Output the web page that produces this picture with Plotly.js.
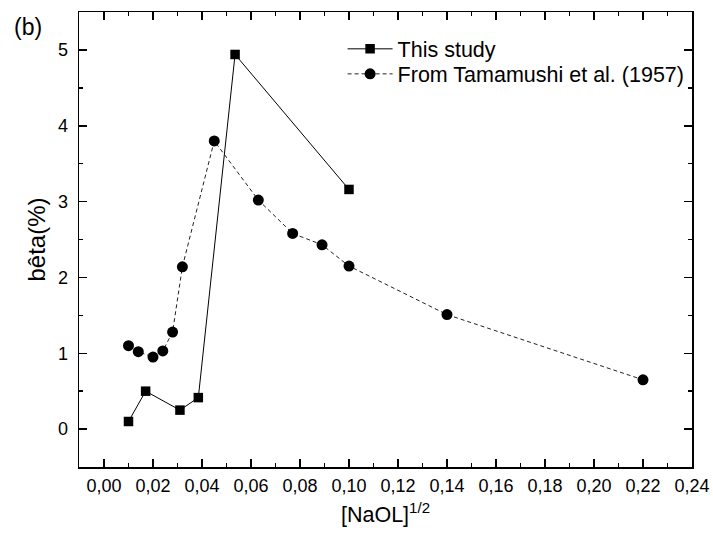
<!DOCTYPE html>
<html>
<head>
<meta charset="utf-8">
<script src="https://cdn.plot.ly/plotly-3.0.1.min.js"></script>
<style>html,body{margin:0;padding:0;background:#fff;}#chart{width:713px;height:543px;}</style>
</head>
<body>
<div id="chart"></div>
<script>
// This study
var studyX = [0.010, 0.017, 0.031, 0.0385, 0.0535, 0.100];
var studyY = [0.10, 0.50, 0.25, 0.415, 4.94, 3.16];
// From Tamamushi et al. (1957)
var tamX = [0.010, 0.014, 0.020, 0.024, 0.028, 0.032, 0.045, 0.063, 0.077, 0.089, 0.100, 0.140, 0.220];
var tamY = [1.10, 1.02, 0.95, 1.03, 1.28, 2.14, 3.80, 3.02, 2.58, 2.43, 2.15, 1.51, 0.65];

var seriesNames = ['This study', 'From Tamamushi et al. (1957)'];
var xTickVals = [0, 0.02, 0.04, 0.06, 0.08, 0.10, 0.12, 0.14, 0.16, 0.18, 0.20, 0.22, 0.24];
var yTickVals = [0, 1, 2, 3, 4, 5];

var font = 'Liberation Sans, Arial, sans-serif';

var traces = [
  {
    x: studyX, y: studyY, name: seriesNames[0], type: 'scatter', mode: 'lines+markers',
    line: {color: '#000', width: 1},
    marker: {symbol: 'square', size: 9.5, color: '#000'},
    legend: 'legend'
  },
  {
    x: tamX, y: tamY, name: seriesNames[1], type: 'scatter', mode: 'lines+markers',
    line: {color: '#222', width: 1, dash: '4px,3px'},
    marker: {symbol: 'circle', size: 11, color: '#000'},
    legend: 'legend2'
  }
];

var axisCommon = {
  showline: true, linecolor: '#000', linewidth: 1.5, mirror: 'ticks',
  ticks: 'inside', ticklen: 8, tickwidth: 1.5, tickcolor: '#000',
  showgrid: false, zeroline: false,
  tickfont: {family: font, size: 18, color: '#000'}
};

var legendCommon = {
  x: 0.430, xanchor: 'left', yanchor: 'middle',
  bgcolor: 'rgba(0,0,0,0)', borderwidth: 0,
  font: {family: font, size: 21.5, color: '#000'},
  itemwidth: 45
};

var layout = {
  width: 713, height: 543,
  margin: {l: 79, r: 21, t: 12, b: 76},
  paper_bgcolor: '#fff', plot_bgcolor: '#fff',
  separators: ', ',
  showlegend: true,
  legend: Object.assign({}, legendCommon, {y: 0.919}),
  legend2: Object.assign({}, legendCommon, {y: 0.864}),
  xaxis: Object.assign({}, axisCommon, {
    range: [-0.0102, 0.24],
    tickvals: xTickVals, tickformat: '.2f',
    minor: {ticks: 'inside', ticklen: 4, tickwidth: 1.5, tickcolor: '#000', dtick: 0.01, tick0: 0},
    ticklabelstandoff: 2,
    title: {text: '[NaOL]<sup>1/2</sup>', font: {family: font, size: 21.5, color: '#000'}, standoff: 12}
  }),
  yaxis: Object.assign({}, axisCommon, {
    range: [-0.5, 5.5],
    tickvals: yTickVals, tickformat: 'd',
    minor: {ticks: 'inside', ticklen: 4, tickwidth: 1.5, tickcolor: '#000', dtick: 0.5, tick0: 0},
    ticklabelstandoff: 6,
    title: {text: 'bêta(%)', font: {family: font, size: 24, color: '#000'}, standoff: 5}
  }),
  annotations: [
    {text: '(b)', xref: 'paper', yref: 'paper', x: -0.109, y: 1.0, xanchor: 'left', yanchor: 'top',
     showarrow: false, font: {family: font, size: 23, color: '#000'}}
  ]
};

Plotly.newPlot('chart', traces, layout, {displayModeBar: false, staticPlot: true});
</script>
</body>
</html>
